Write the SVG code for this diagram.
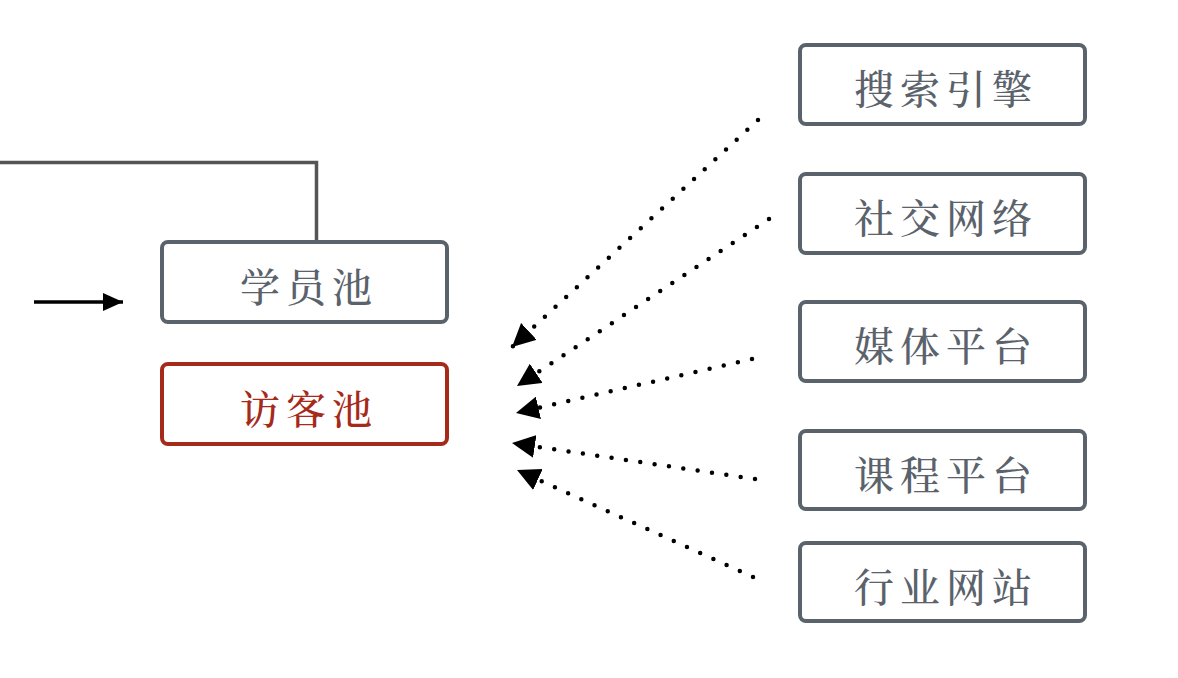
<svg xmlns="http://www.w3.org/2000/svg" width="1178" height="678" viewBox="0 0 1178 678">
<style>
.box{fill:#fff;stroke:#5a626b;stroke-width:4}
.red{fill:#fff;stroke:#a52a1a;stroke-width:4}
.t{font-family:"Noto Serif CJK SC","Noto Sans CJK SC",serif;font-size:40px;font-weight:500;fill:#5a626b;text-anchor:middle;letter-spacing:6px}
.tr{fill:#a52a1a}
.dot{fill:none;stroke:#000;stroke-width:4.5;stroke-linecap:round;stroke-dasharray:0 14.5}
</style>
<defs>
<marker id="ah" viewBox="0 0 10 10" refX="10" refY="5" markerWidth="23" markerHeight="23" markerUnits="userSpaceOnUse" orient="auto">
<path d="M0,0 L10,5 L0,10 Z" fill="#000"/>
</marker>
<marker id="ah2" viewBox="0 0 10 10" refX="10" refY="5" markerWidth="20" markerHeight="20" markerUnits="userSpaceOnUse" orient="auto">
<path d="M0,0.5 L10,5 L0,9.5 Z" fill="#000"/>
</marker>
</defs>
<rect width="1178" height="678" fill="#fff"/>
<g id="connectors">
<polyline points="0,162.5 316.5,162.5 316.5,241" fill="none" stroke="#555" stroke-width="3.5"/>
<line x1="34" y1="302" x2="123" y2="302" stroke="#000" stroke-width="3.5" marker-end="url(#ah2)"/>
<line class="dot" x1="758" y1="120" x2="512" y2="347" marker-end="url(#ah)"/>
<line class="dot" x1="769" y1="219" x2="517" y2="386" marker-end="url(#ah)"/>
<line class="dot" x1="752" y1="359" x2="516" y2="413" marker-end="url(#ah)"/>
<line class="dot" x1="755" y1="479" x2="512" y2="443" marker-end="url(#ah)"/>
<line class="dot" x1="753" y1="577" x2="517" y2="470" marker-end="url(#ah)"/>
</g>
<g id="xueyuanchi"><rect class="box" x="162" y="242" width="285" height="80" rx="6"/><text class="t" x="309" y="302">学员池</text></g>
<g id="fangkechi"><rect class="red" x="162" y="364" width="285" height="80" rx="6"/><text class="t tr" x="309" y="424">访客池</text></g>
<g id="sousuo"><rect class="box" x="800" y="45" width="285" height="79" rx="6"/><text class="t" x="946" y="104">搜索引擎</text></g>
<g id="shejiao"><rect class="box" x="800" y="174" width="285" height="79" rx="6"/><text class="t" x="946" y="233">社交网络</text></g>
<g id="meiti"><rect class="box" x="800" y="302" width="285" height="79" rx="6"/><text class="t" x="946" y="361">媒体平台</text></g>
<g id="kecheng"><rect class="box" x="800" y="431" width="285" height="78" rx="6"/><text class="t" x="946" y="490">课程平台</text></g>
<g id="hangye"><rect class="box" x="800" y="543" width="285" height="78" rx="6"/><text class="t" x="946" y="602">行业网站</text></g>
</svg>
